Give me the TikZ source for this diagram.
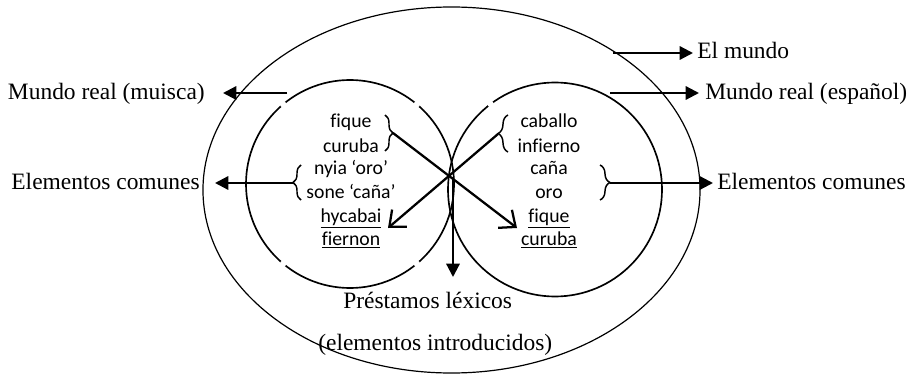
\documentclass[tikz,border=0pt]{standalone}
\usepackage{fontspec}
\setmainfont{Liberation Serif}
\newfontfamily\calib[Ligatures={NoCommon}]{Carlito}
\usetikzlibrary{arrows.meta,decorations.pathreplacing,calc}
\begin{document}
\begin{tikzpicture}[x=0.75pt,y=-0.75pt,
  lbl/.style={font=\fontsize{17.6}{21}\selectfont, inner sep=0pt},
  wd/.style={font=\calib\fontsize{14.8}{17.5}\selectfont, inner sep=0pt, anchor=base},
  arr/.style={line width=1.7pt, -{Triangle[length=10pt,width=10pt]}},
  barb/.style={line width=1.7pt, -{Straight Barb[length=10pt,width=17pt]}},
  brc/.style={decorate, decoration={brace, amplitude=6pt}, line width=1.1pt},
  gapdot/.style={fill=white, draw=none}]
\useasboundingbox (0,0) rectangle (913,374);
% world and the two real worlds
\draw[line width=0.9pt] (451.5,190) ellipse [x radius=186.4pt, y radius=137.25pt];
\coordinate (cL) at (350,184);
\coordinate (cR) at (555,189.5);
\draw[line width=1.25pt] (cL) circle [radius=78pt];
\draw[line width=1.25pt] (cR) circle [radius=80.25pt];
\foreach \a in {230,310,130,50}{\fill[gapdot] ($(cL)+(\a:104)$) circle [radius=2.4pt];}
\fill[gapdot] ($(cR)+(233:107)$) circle [radius=2.4pt];
% left words
\node[wd] (l1) at (351,128) {fique};
\node[wd] (l2) at (351,152) {curuba};
\node[wd] (l3) at (351,175) {nyia ‘oro’};
\node[wd] (l4) at (351,198) {sone ‘caña’};
\node[wd] (l5) at (351,222) {\underline{hycabai}};
\node[wd] (l6) at (351,245) {\underline{fiernon}};
% right words
\node[wd] (r1) at (549,128) {caballo};
\node[wd] (r2) at (549,152) {infierno};
\node[wd] (r3) at (549,175) {caña};
\node[wd] (r4) at (549,198) {oro};
\node[wd] (r5) at (549,222) {\underline{fique}};
\node[wd] (r6) at (549,245) {\underline{curuba}};
% braces
\draw[brc] (385,115) -- (385,151);
\coordinate (b1) at (393,133);
\draw[brc] (301,200) -- (301,165);
\coordinate (b2) at (293,183);
\draw[brc, decoration={amplitude=7.5pt}] (508,152) -- (508,115);
\coordinate (b3) at (498,134);
\draw[brc, decoration={amplitude=7.5pt}] (600,165) -- (600,200);
\coordinate (b4) at (610,183);
% outside labels
\node[lbl, anchor=base west] (elm) at (697,59) {El mundo};
\node[lbl, anchor=base west] (mre) at (705,100) {Mundo real (español)};
\node[lbl, anchor=base west] (ecr) at (717,190) {Elementos comunes};
\node[lbl, anchor=base east] (mrm) at (205,100) {Mundo real (muisca)};
\node[lbl, anchor=base east] (ecl) at (200,190) {Elementos comunes};
\node[lbl, anchor=base west] (pl1) at (343,308) {Préstamos léxicos};
\node[lbl, anchor=base west] (pl2) at (318,350) {(elementos introducidos)};
% connectors
\coordinate (s1) at (613,53);
\coordinate (s2) at (610,93);
\coordinate (s3) at (287,93);
\draw[arr] (s1) -- ([shift={(-4,-6)}]elm.base west);
\draw[arr] (s2) -- ([shift={(-6,-7)}]mre.base west);
\draw[arr] (b4) -- ([shift={(-4,-7)}]ecr.base west);
\draw[arr] (s3) -- ([shift={(18,-7)}]mrm.base east);
\draw[arr] (b2) -- ([shift={(15,-7)}]ecl.base east);
\coordinate (X) at (453,177);
\coordinate (t1) at (517,228);
\coordinate (t2) at (388,228);
\coordinate (t3) at (453,277);
\draw[barb] (b1) -- (t1);
\draw[barb] (b3) -- (t2);
\draw[arr] (X) -- (t3);
\end{tikzpicture}
\end{document}
